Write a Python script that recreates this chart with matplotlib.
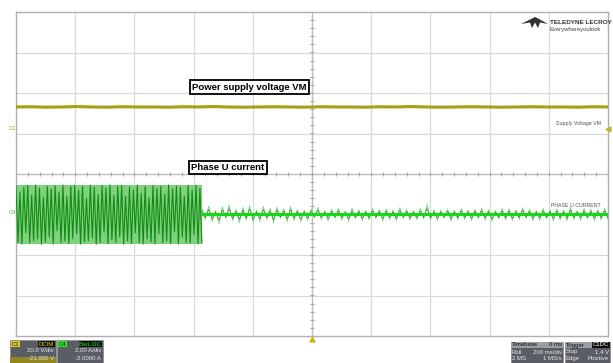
import matplotlib.pyplot as plt
import matplotlib.patches as mpatches
import numpy as np

# scope settings
t_div = 0.2            # 200 ms/div, 10 divisions
c1_vdiv, c1_offset = 20.0, -21.0   # V/div, V
c4_adiv, c4_offset = 2.0, -2.0     # A/div, A
burst_end = 0.628      # s, where the phase current stops

# C1: supply voltage VM [V]
vm_values = [54.1, 54.2, 54.0, 54.1, 54.3, 54.1, 54.0, 54.2, 54.1, 54.1,
             54.0, 54.2, 54.1, 54.3, 54.1, 54.0, 54.1, 54.2, 54.1, 54.0,
             54.2, 54.1, 54.1, 54.0, 54.2, 54.1, 54.3, 54.1, 54.0, 54.1,
             54.2, 54.1, 54.0, 54.1, 54.2, 54.1, 54.1, 54.0, 54.2, 54.1]

# C4: phase U current [A] while the motor is driven
burst_values = [1.42, -1.38, 1.1, -1.46, 1.35, -0.9, 1.44, -1.4, 0.95, -1.3,
                1.45, -1.2, 1.3, -1.47, 0.85, -1.35, 1.4, -1.1, 1.25, -1.45,
                1.43, -0.8, 1.1, -1.4, 1.46, -1.3, 0.9, -1.44, 1.38, -1.2,
                1.44, -0.95, 1.2, -1.46, 1.4, -1.35, 0.8, -1.3, 1.45, -1.15,
                1.35, -1.47, 1.0, -1.4, 1.42, -0.85, 1.3, -1.45, 1.46, -1.25,
                0.95, -1.38, 1.4, -1.1, 1.44, -1.46, 0.9, -1.3, 1.36, -1.42,
                1.2, -0.9, 1.45, -1.4, 1.05, -1.46, 1.38, -1.2, 0.85, -1.35,
                1.44, -1.45, 1.3, -0.95, 1.4, -1.4, 1.0, -1.3, 1.46, -1.44,
                1.25, -0.85, 1.4, -1.46, 1.35, -1.1, 0.9, -1.38, 1.44, -1.42,
                1.2, -1.0, 1.45, -1.45, 1.3, -1.4]

# C4: residual noise after the motor stops [A]
noise_values = [0.3, -0.25, 0.42, -0.35, 0.2, -0.45, 0.38, -0.2, 0.48, -0.3,
                0.25, -0.4, 0.35, -0.28, 0.44, -0.38, 0.22, -0.33, 0.4, -0.25,
                0.3, -0.42, 0.36, -0.2, 0.28, -0.35, 0.4, -0.3, 0.24, -0.36,
                0.22, -0.3, 0.28, -0.18, 0.35, -0.25, 0.2, -0.32, 0.26, -0.2,
                0.3, -0.28, 0.18, -0.34, 0.32, -0.22, 0.24, -0.3, 0.2, -0.26,
                0.3, -0.2, 0.25, -0.33, 0.28, -0.24, 0.22, -0.3, 0.34, -0.2,
                0.26, -0.28, 0.2, -0.25, 0.3, -0.22, 0.5, -0.26, 0.24, -0.3,
                0.22, -0.2, 0.28, -0.32, 0.2, -0.26, 0.3, -0.24, 0.22, -0.3,
                0.26, -0.2, 0.32, -0.28, 0.24, -0.34, 0.2, -0.22, 0.3, -0.26,
                0.28, -0.3, 0.22, -0.24, 0.34, -0.2, 0.26, -0.3, 0.2, -0.28,
                0.3, -0.22, 0.24, -0.32, 0.28, -0.26, 0.22, -0.3, 0.36, -0.24,
                0.2, -0.28, 0.3, -0.22, 0.26, -0.3, 0.24, -0.26, 0.3, -0.24]
noise_core = 0.08      # A, half-width of the dense core of the noise band

YELLOW = '#a89f12'
GREEN_DARK = '#138c13'
GREEN_LIGHT = '#7fd07f'
GREEN_BRIGHT = '#16d816'

W, H = 613, 363


def fx(px):
    return px / W


def fy(py):
    return 1 - py / H


def c1_div(v):
    return (np.asarray(v) + c1_offset) / c1_vdiv


def c4_div(i):
    return (np.asarray(i) + c4_offset) / c4_adiv


fig = plt.figure(figsize=(W / 100, H / 100), dpi=100)
plt.rcParams['font.family'] = ['Liberation Sans', 'DejaVu Sans']
ax = fig.add_axes([fx(16), fy(336), fx(592), 324 / H])
ax.set_xlim(0, 10 * t_div)
ax.set_ylim(-4, 4)

# graticule
for x in np.arange(1, 10) * t_div:
    ax.axvline(x, color='#d9d9d9', lw=0.9, zorder=0)
for y in range(-3, 4):
    ax.axhline(y, color='#d9d9d9', lw=0.9, zorder=0)
ax.axvline(5 * t_div, color='#bdbdbd', lw=0.9, zorder=0)
ax.axhline(0, color='#bdbdbd', lw=0.9, zorder=0)
ax.plot(np.arange(0, 10.01, 0.2) * t_div, np.zeros(51), ls='none', marker='|',
        ms=3, color='#a8a8a8', mew=0.8, zorder=0)
ax.plot(np.full(41, 5 * t_div), np.arange(-4, 4.01, 0.2), ls='none', marker='_',
        ms=3, color='#a8a8a8', mew=0.8, zorder=0)
for s in ax.spines.values():
    s.set_color('#b0b0b0')
    s.set_linewidth(1)
ax.set_xticks([])
ax.set_yticks([])

# C1 trace
t_vm = np.linspace(0, 10 * t_div, len(vm_values))
ax.plot(t_vm, c1_div(vm_values), color=YELLOW, lw=2.2, zorder=3)

# C4 trace: burst then noise
t_burst = np.linspace(0, burst_end, len(burst_values))
ax.fill_between([0, burst_end], c4_div(min(burst_values)), c4_div(max(burst_values)),
                color=GREEN_LIGHT, lw=0, zorder=2)
ax.plot(t_burst, c4_div(burst_values), color=GREEN_DARK, lw=0.8, zorder=3)
t_noise = np.linspace(burst_end, 10 * t_div, len(noise_values))
ax.plot(t_noise, c4_div(noise_values), color=GREEN_LIGHT, lw=0.6, zorder=3)
ax.plot(t_noise, c4_div(np.array(noise_values) * 0.6), color=GREEN_DARK, lw=0.5, zorder=3)
ax.fill_between([burst_end, 10 * t_div], c4_div(-noise_core), c4_div(noise_core),
                color=GREEN_BRIGHT, lw=0, zorder=4)

# annotations
box = dict(boxstyle='square,pad=0.25', fc='white', ec='black', lw=1.3)
ax.text(0.394, 0.768, 'Power supply voltage VM', transform=ax.transAxes, ha='center',
        va='center', fontsize=6.8, fontweight='bold', bbox=box, zorder=6)
ax.text(0.358, 0.520, 'Phase U current', transform=ax.transAxes, ha='center',
        va='center', fontsize=6.8, fontweight='bold', bbox=box, zorder=6)
ax.text(0.988, 0.657, 'Supply Voltage VM', transform=ax.transAxes, ha='right',
        va='center', fontsize=3.8, color='#555555', zorder=6)
ax.text(0.988, 0.404, 'PHASE U CURRENT', transform=ax.transAxes, ha='right',
        va='center', fontsize=3.8, color='#555555', zorder=6)

# channel markers and trigger markers
fig.text(fx(9), fy(129), 'C1', fontsize=4.2, color=YELLOW, va='center')
fig.text(fx(9), fy(212), 'C4', fontsize=4.2, color='#33cc33', va='center')
ax.plot(10 * t_div, 1.1, marker='<', color='#c8b800', ms=3.5, clip_on=False)
ax.plot(5 * t_div, -4.07, marker='^', color='#c8b800', ms=3.5, clip_on=False)

# logo
logo = [(521, 24), (531, 19), (535, 17), (539, 19), (548, 24), (540, 22.5),
        (538, 28), (535, 22.5), (532, 28), (530, 22.5)]
fig.patches.append(mpatches.Polygon([(fx(a), fy(b)) for a, b in logo], closed=True,
                                    transform=fig.transFigure, fc='#333333', ec='none'))
fig.text(fx(550), fy(22), 'TELEDYNE LECROY', fontsize=4.6, fontweight='bold',
         color='#333333', va='center')
fig.text(fx(550), fy(29), 'Everywhereyoulook', fontsize=4.2, color='#444444', va='center')


# bottom info boxes
def panel(x0, x1, y0, y1, color='#5a5d63'):
    fig.patches.append(mpatches.Rectangle((fx(x0), fy(y1)), fx(x1 - x0), (y1 - y0) / H,
                                          transform=fig.transFigure, fc=color, ec='#8a8a8a', lw=0.5))


def small(x, y, s, ha='left', color='#e8e8e8', bg=None):
    kw = dict(fontsize=4.3, color=color, ha=ha, va='center')
    if bg is not None:
        kw['bbox'] = dict(boxstyle='square,pad=0.1', fc=bg, ec='none')
    fig.text(fx(x), fy(y), s, **kw)


panel(10, 56, 340, 363)
fig.patches.append(mpatches.Rectangle((fx(10), fy(363)), fx(46), 6 / H,
                                      transform=fig.transFigure, fc='#8f8620', ec='none'))
small(12, 344, 'C1', color='#222222', bg='#d8cc20')
small(54, 344, 'DCIM', ha='right', color='#d8cc20', bg='#111111')
small(54, 351, '20.0 V/div', ha='right')
small(54, 358, '-21.000 V', ha='right')
panel(57, 103, 340, 363)
small(59, 344, 'C4', color='#111111', bg='#22ee22')
small(101, 344, 'BwL DC', ha='right', color='#22ee22', bg='#111111')
small(101, 351, '2.00 A/div', ha='right')
small(101, 358, '-2.0000 A', ha='right')

panel(511, 563, 342, 363)
fig.patches.append(mpatches.Rectangle((fx(511), fy(348)), fx(52), 6 / H,
                                      transform=fig.transFigure, fc='#9a9da3', ec='none'))
small(512, 345, 'Timebase', color='#111111')
small(562, 345, '0 ms', ha='right', color='#111111')
small(512, 352, 'Roll')
small(562, 352, '200 ms/div', ha='right')
small(512, 358.5, '2 MS')
small(562, 358.5, '1 MS/s', ha='right')
panel(565, 610, 342, 363)
fig.patches.append(mpatches.Rectangle((fx(565), fy(348)), fx(45), 6 / H,
                                      transform=fig.transFigure, fc='#9a9da3', ec='none'))
small(566, 345, 'Trigger', color='#111111')
small(609, 345, 'C1DC', ha='right', color='#ffffff', bg='#111111')
small(566, 352, 'Stop')
small(609, 352, '1.4 V', ha='right')
small(566, 358.5, 'Edge')
small(609, 358.5, 'Positive', ha='right')

plt.savefig('out.png', dpi=100)
